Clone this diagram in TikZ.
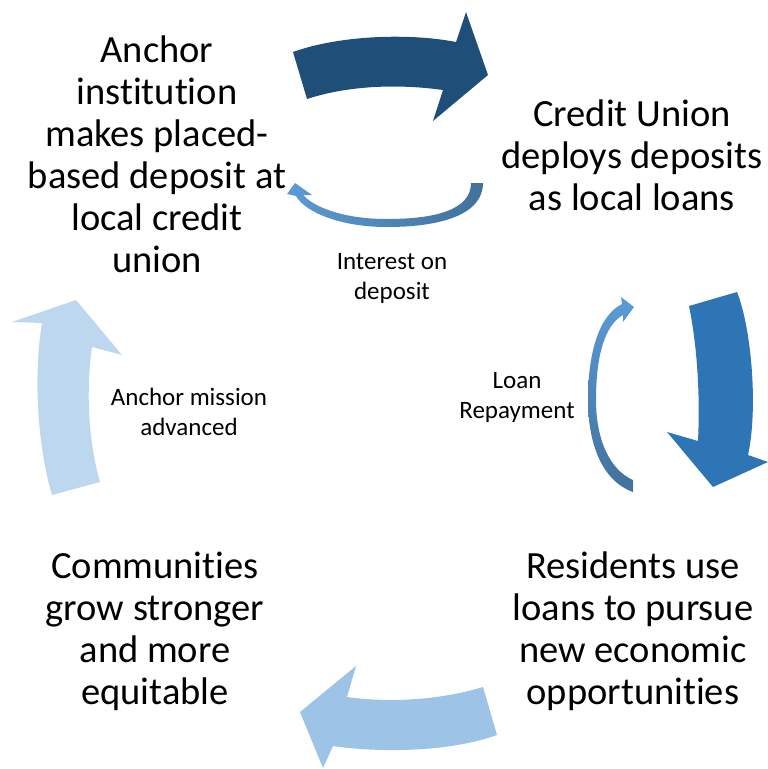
\documentclass[tikz,border=0pt]{standalone}
\usepackage{fontspec}
\setmainfont{Carlito}[Ligatures={NoCommon},RawFeature={-liga;-clig}]
\definecolor{topblue}{HTML}{1F4E79}
\definecolor{rightblue}{HTML}{2E75B6}
\definecolor{bottomblue}{HTML}{9DC3E6}
\definecolor{leftblue}{HTML}{BDD7EE}
\definecolor{thinlight}{HTML}{5B9BD5}
\definecolor{thindark}{HTML}{41719C}
\tikzset{
  bigtext/.style={align=center,inner sep=0pt,text=black,font=\fontsize{38.5}{42}\selectfont},
  smalltext/.style={align=center,inner sep=0pt,text=black,font=\fontsize{25}{30}\selectfont},
}
\begin{document}
\begin{tikzpicture}[x=1pt,y=-1pt]
\useasboundingbox (0,0) rectangle (768,769);
% top arrow
\fill[topblue] (293,52) .. controls (340,35) and (410,33) .. (456,42)
  -- (466,12) -- (488,75) -- (433,121) -- (443,90)
  .. controls (400,84) and (350,85) .. (307,99) -- cycle;
% right arrow
\fill[rightblue] (689,306) -- (737,292) .. controls (752,330) and (758,410) .. (748,455)
  -- (768,462) -- (713,487) -- (667,432) -- (698,441)
  .. controls (700,400) and (698,350) .. (689,306) -- cycle;
% bottom arrow
\fill[bottomblue] (483,687) -- (497,735) .. controls (450,752) and (380,753) .. (333,746)
  -- (323,768) -- (300,712) -- (356,666) -- (347,697)
  .. controls (390,703) and (440,700) .. (483,687) -- cycle;
% left arrow
\fill[leftblue] (52,495) -- (100,482) .. controls (88,440) and (86,390) .. (92,347)
  -- (122,355) -- (76,300) -- (12,322) -- (42,323)
  .. controls (34,370) and (36,440) .. (52,495) -- cycle;
% interest arrow
\shade[left color=thinlight,right color=thindark]
  (483,183) .. controls (483,215) and (440,227) .. (387,227)
  .. controls (340,227) and (305,212) .. (296,196)
  -- (287,194) -- (295,183) -- (312,195) -- (303,195)
  .. controls (315,208) and (345,219) .. (387,219)
  .. controls (435,219) and (471,210) .. (471,183) -- cycle;
% loan repayment arrow
\shade[top color=thinlight,bottom color=thindark]
  (633,492) .. controls (600,480) and (588,440) .. (588,400)
  .. controls (588,350) and (600,315) .. (622,304)
  -- (621,297) -- (634,307) -- (623,322) -- (623,315)
  .. controls (605,325) and (596,355) .. (596,400)
  .. controls (596,440) and (610,470) .. (633,480) -- cycle;
% texts
\node[bigtext] (anchor) at (157,154) {Anchor\\institution\\makes placed-\\based deposit at\\local credit\\union};
\node[bigtext] (cu) at (632,155) {Credit Union\\deploys deposits\\as local loans};
\node[bigtext] (res) at (633,631) {Residents use\\loans to pursue\\new economic\\opportunities};
\node[bigtext] (comm) at (155,631) {Communities\\grow stronger\\and more\\equitable};
\node[smalltext] (interest) at (392,278) {Interest on\\deposit};
\node[smalltext] (loan) at (517,397) {Loan\\Repayment};
\node[smalltext] (mission) at (189,412) {Anchor mission\\advanced};
\end{tikzpicture}
\end{document}
